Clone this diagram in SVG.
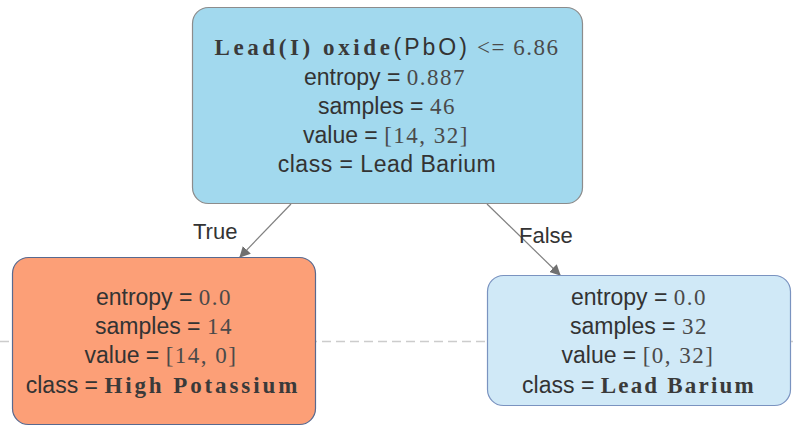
<svg xmlns="http://www.w3.org/2000/svg" width="796" height="426" viewBox="0 0 796 426">
<style>
.t{font-size:23px;fill:#333;text-anchor:middle}
.s{font-family:"Liberation Sans",Arial,sans-serif}
.r{font-family:"Liberation Serif","Times New Roman",serif;fill:#4a4a4a;font-size:23px;letter-spacing:1.5px}
.m{font-family:"Liberation Serif","Times New Roman",serif;font-weight:bold;font-size:23px;fill:#3a3a3a}
.lbl{font-family:"Liberation Sans",Arial,sans-serif;font-size:22px;fill:#333}
.edge{stroke:#808080;stroke-width:1.2;fill:none;marker-end:url(#ah)}
</style>
<defs>
<marker id="ah" viewBox="0 0 10 10" refX="9" refY="5" markerWidth="11" markerHeight="11" markerUnits="userSpaceOnUse" orient="auto">
<path d="M0,0 L10,5 L0,10 z" fill="#707070"/>
</marker>
</defs>
<rect width="796" height="426" fill="#fff"/>
<line x1="0" y1="341.5" x2="796" y2="341.5" stroke="#cccccc" stroke-width="1.5" stroke-dasharray="9 5"/>
<g id="connectors">
<line class="edge" x1="291" y1="204" x2="240" y2="257"/>
<line class="edge" x1="487" y1="204" x2="560" y2="275"/>
<text class="lbl" x="193" y="239">True</text>
<text class="lbl" x="519" y="243">False</text>
</g>
<g id="root">
<rect x="192.5" y="7.5" width="390" height="196" rx="16" fill="#a2d9ee" stroke="#8c8c8c" stroke-width="1.2"/>
<text class="t" y="55" x="387"><tspan class="m" letter-spacing="3.6">Lead(I) oxide</tspan><tspan class="s" letter-spacing="3">(PbO)</tspan><tspan class="r" letter-spacing="3"> &lt;= 6.86</tspan></text>
<text class="t" y="85" x="385"><tspan class="s">entropy = </tspan><tspan class="r">0.887</tspan></text>
<text class="t" y="114" x="387"><tspan class="s">samples = </tspan><tspan class="r">46</tspan></text>
<text class="t" y="143" x="386"><tspan class="s">value = </tspan><tspan class="r">[14, 32]</tspan></text>
<text class="t s" y="172" x="387" letter-spacing="0.5">class = Lead Barium</text>
</g>
<g id="left">
<rect x="12.5" y="257.5" width="303" height="167" rx="16" fill="#fc9f77" stroke="#58698f" stroke-width="1.2"/>
<text class="t" y="305" x="164"><tspan class="s">entropy = </tspan><tspan class="r">0.0</tspan></text>
<text class="t" y="334" x="164"><tspan class="s">samples = </tspan><tspan class="r">14</tspan></text>
<text class="t" y="363" x="161"><tspan class="s">value = </tspan><tspan class="r">[14, 0]</tspan></text>
<text class="t" y="393" x="163"><tspan class="s">class = </tspan><tspan class="m" letter-spacing="2.9">High Potassium</tspan></text>
</g>
<g id="right">
<rect x="487.5" y="275.5" width="303" height="130" rx="16" fill="#d0e9f7" stroke="#7a93c0" stroke-width="1.2"/>
<text class="t" y="305" x="639"><tspan class="s">entropy = </tspan><tspan class="r">0.0</tspan></text>
<text class="t" y="334" x="639"><tspan class="s">samples = </tspan><tspan class="r">32</tspan></text>
<text class="t" y="363" x="638"><tspan class="s">value = </tspan><tspan class="r">[0, 32]</tspan></text>
<text class="t" y="393" x="639"><tspan class="s">class = </tspan><tspan class="m" letter-spacing="2.2">Lead Barium</tspan></text>
</g>
</svg>
